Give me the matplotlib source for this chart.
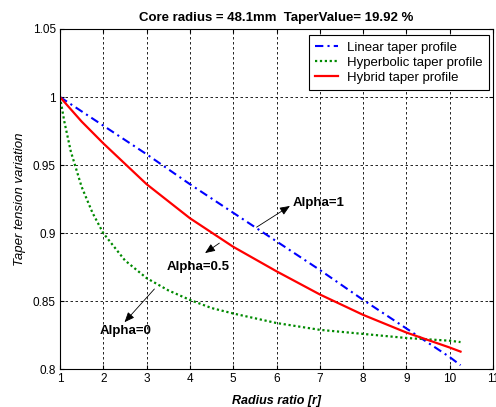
import numpy as np
import matplotlib.pyplot as plt

plt.rcParams['font.family'] = ['Liberation Sans', 'DejaVu Sans']

# values
r_lin = [1, 2, 3, 4, 5, 6, 7, 8, 9, 10, 10.25]
linear = [1.0, 0.979, 0.958, 0.936, 0.915, 0.894, 0.873, 0.851, 0.830, 0.809, 0.803]

r_hyp = [1, 1.1, 1.25, 1.5, 1.75, 2, 2.5, 3, 3.5, 4, 4.5, 5, 6, 7, 8, 9, 10, 10.25]
hyperbolic = [1.0, 0.982, 0.960, 0.934, 0.915, 0.900, 0.880, 0.867, 0.858, 0.851,
              0.845, 0.841, 0.834, 0.829, 0.826, 0.823, 0.821, 0.820]

r_hyb = [1, 1.5, 2, 3, 4, 5, 6, 7, 8, 9, 10, 10.25]
hybrid = [1.0, 0.982, 0.966, 0.936, 0.911, 0.890, 0.872, 0.855, 0.840, 0.827, 0.816, 0.813]

labels = ['Linear taper profile', 'Hyperbolic taper profile', 'Hybrid taper profile']
title = 'Core radius = 48.1mm  TaperValue= 19.92 %'

xticks = np.arange(1, 12)
yticks = [0.8, 0.85, 0.9, 0.95, 1.0, 1.05]
ytick_labels = ['0.8', '0.85', '0.9', '0.95', '1', '1.05']

fig = plt.figure(figsize=(4.96, 4.07), dpi=100)
ax = fig.add_axes([60 / 496, 1 - 369.3 / 407, 433 / 496, 340.3 / 407])

ax.plot(r_lin, linear, color='#0000ff', lw=1.5, linestyle=(0, (4, 2, 1, 2)), label=labels[0])
ax.plot(r_hyp, hyperbolic, color='#008a00', lw=1.6, linestyle=(0, (1, 1.2)), label=labels[1])
ax.plot(r_hyb, hybrid, color='#ff0000', lw=1.6, label=labels[2])

ax.set_xlim(1, 11)
ax.set_ylim(0.8, 1.05)
ax.set_xticks(xticks)
ax.set_xticklabels([str(t) for t in xticks])
ax.set_yticks(yticks)
ax.set_yticklabels(ytick_labels)
ax.tick_params(direction='in', length=3, labelsize=8.5, top=True, right=True, pad=3)
ax.grid(True, color='black', linestyle=(0, (3, 3)), lw=0.6)
for s in ax.spines.values():
    s.set_linewidth(0.8)

ax.set_title(title, fontsize=9.5, fontweight='bold', pad=6)
ax.set_xlabel('Radius ratio [r]', fontsize=9, fontweight='bold', style='italic', labelpad=7)
ax.set_ylabel('Taper tension variation', fontsize=9.5, style='italic', labelpad=5)

leg = ax.legend(loc='upper right', bbox_to_anchor=(0.991, 0.982), borderaxespad=0,
                fontsize=9.5, fancybox=False, framealpha=1, edgecolor='black',
                handlelength=1.7, handletextpad=0.7, labelspacing=0.2, borderpad=0.5)
leg.get_frame().set_linewidth(0.8)

arrow = dict(arrowstyle='-|>,head_length=0.6,head_width=0.25', color='black', lw=0.6,
             shrinkA=0, shrinkB=0)
ax.annotate('', xy=(6.31, 0.920), xytext=(5.54, 0.9044), arrowprops=arrow)
ax.text(6.37, 0.922, 'Alpha=1', fontsize=9.5, fontweight='bold', va='center')
ax.annotate('', xy=(4.35, 0.8854), xytext=(4.68, 0.8927), arrowprops=arrow)
ax.text(3.46, 0.8755, 'Alpha=0.5', fontsize=9.5, fontweight='bold', va='center')
ax.annotate('', xy=(2.49, 0.8346), xytext=(3.18, 0.859), arrowprops=arrow)
ax.text(1.92, 0.8285, 'Alpha=0', fontsize=9.5, fontweight='bold', va='center')

fig.savefig('out.png', dpi=100)
